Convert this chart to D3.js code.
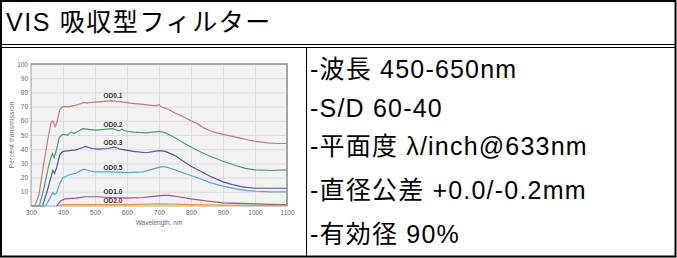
<!DOCTYPE html>
<html>
<head>
<meta charset="utf-8">
<script src="https://cdn.jsdelivr.net/npm/d3@7"></script>
<style>
  html, body { margin: 0; padding: 0; background: #fff; }
  svg { display: block; }
  .txt { font-family: "Liberation Sans", Arial, "Noto Sans CJK JP", sans-serif; fill: #000; }
  .small { font-family: "Liberation Sans", Arial, sans-serif; fill: #666; }
</style>
</head>
<body>
<svg id="page" width="677" height="258"></svg>
<script>
// table text
const headerText = "VIS 吸収型フィルター";
const specLines = ["-波長 450-650nm", "-S/D 60-40", "-平面度 λ/inch@633nm", "-直径公差 +0.0/-0.2mm", "-有効径 90%"];

// chart data: [wavelength nm, percent transmission]
const seriesNames = ["OD0.1", "OD0.2", "OD0.3", "OD0.5", "OD1.0", "OD2.0"];
const seriesColors = ["#c47b7b", "#4f9a78", "#4f5896", "#58a8c6", "#9c4f8e", "#d2a236"];
const od01 = [[300,0],[312,0],[325,8],[340,30],[355,50],[363,59],[368,60],[372,58],[376,56],[381,59],[390,68],[400,70],[420,70],[440,71],[455,72],[465,73],[475,72.5],[490,73],[520,73.5],[550,74],[580,73.5],[610,72.5],[650,71.5],[690,70.5],[700,71.5],[705,70],[730,68],[750,65.5],[770,63.5],[800,60],[820,58],[840,55],[860,53],[880,51.5],[900,50.5],[930,49],[950,48],[980,46.5],[1000,45.5],[1040,44.5],[1070,44],[1100,44]];
const od02 = [[300,0],[326,0],[340,12],[355,28],[362,34],[367,37],[372,34],[378,38],[388,48],[398,50.5],[415,50],[425,52],[435,51],[450,53],[462,54.5],[480,54],[500,53.5],[530,54],[555,54.5],[575,53],[585,54],[590,53],[620,52],[660,51.5],[700,52.5],[720,51.5],[750,48],[780,44],[800,41.5],[830,38],[860,35],[900,31.5],[940,28.5],[970,26.5],[1000,25.5],[1050,25],[1100,25.5]];
const od03 = [[300,0],[336,0],[350,10],[362,20],[368,25],[374,23],[380,27],[390,36],[400,38.5],[420,39],[440,39.5],[460,41],[470,42],[490,40.5],[510,40],[540,40.5],[560,41.5],[580,40],[620,38.5],[660,37.5],[700,39],[720,38.5],[750,35.5],[780,31],[800,28],[830,24.5],[860,21],[900,17],[930,15],[960,13.5],[1000,12.5],[1050,12.5],[1100,12.5]];
const od05 = [[300,0],[345,0],[358,5],[368,9.5],[374,8],[380,9],[390,16],[400,20],[420,22],[440,23],[455,25],[465,26],[480,25],[500,24],[550,24],[600,23.5],[650,24],[680,26],[705,27.5],[720,27.5],[750,25.5],[780,23],[800,21.5],[830,19],[860,16.5],[900,14],[940,12],[970,11],[1000,10.5],[1050,10],[1100,10]];
const od10 = [[380,0],[392,3.5],[405,5],[440,5.5],[470,6.5],[500,6.5],[550,6],[600,5.5],[650,6],[690,7],[710,7.5],[730,7.5],[760,6.5],[800,5],[850,3.5],[900,2.2],[950,1.8],[1000,1.5],[1050,1.2],[1100,1]];
const od20 = [[385,0],[400,1],[500,1],[600,1],[700,1.5],[750,1.3],[800,1],[900,0.7],[1000,0.5],[1100,0.5]];
const seriesData = [od01, od02, od03, od05, od10, od20];
const labelY = [77.5, 57, 44.5, 27, 10, 3.5];
const labelX = 556;

const xTicks = [300, 400, 500, 600, 700, 800, 900, 1000, 1100];
const yTicks = [10, 20, 30, 40, 50, 60, 70, 80, 90, 100];

const svg = d3.select("#page");

// ---- table frame ----
const frame = svg.append("g").attr("stroke", "#000").attr("fill", "none");
frame.append("rect").attr("x", 1).attr("y", 1).attr("width", 674.5).attr("height", 255.5).attr("stroke-width", 2);
frame.append("line").attr("x1", 1).attr("x2", 676).attr("y1", 44.5).attr("y2", 44.5);
frame.append("line").attr("x1", 1).attr("x2", 676).attr("y1", 47.5).attr("y2", 47.5);
frame.append("line").attr("x1", 306.5).attr("x2", 306.5).attr("y1", 47).attr("y2", 257);

// header
svg.append("text")
    .attr("class", "txt")
    .attr("x", 6)
    .attr("y", 31)
    .attr("font-size", "25px")
    .attr("letter-spacing", "1.6px")
    .text(headerText);

// spec lines
const specBase = [78, 116.5, 155, 199, 243];
svg.append("g").selectAll("text")
    .data(specLines)
    .join("text")
    .attr("class", "txt")
    .attr("x", 310)
    .attr("y", (d, i) => specBase[i])
    .attr("font-size", "25px")
    .attr("letter-spacing", "1.2px")
    .text(d => d);

// ---- chart ----
const margin = { left: 31, top: 64, right: 287, bottom: 206 };
const x = d3.scaleLinear().domain([300, 1100]).range([margin.left, margin.right]);
const y = d3.scaleLinear().domain([0, 100]).range([margin.bottom, margin.top]);

const chart = svg.append("g");

chart.append("rect")
    .attr("x", x(300)).attr("y", y(100))
    .attr("width", x(1100) - x(300)).attr("height", y(0) - y(100))
    .attr("fill", "#f2f2f2");

// grid
const gridX = chart.append("g")
    .attr("transform", `translate(0, ${y(0)})`)
    .call(d3.axisBottom(x).tickValues(xTicks).tickSize(-(y(0) - y(100))).tickFormat(""));
gridX.select(".domain").remove();
gridX.selectAll("line").attr("stroke", "#dcdcdc");

const gridY = chart.append("g")
    .attr("transform", `translate(${x(300)}, 0)`)
    .call(d3.axisLeft(y).tickValues(yTicks).tickSize(-(x(1100) - x(300))).tickFormat(""));
gridY.select(".domain").remove();
gridY.selectAll("line").attr("stroke", "#dcdcdc");

// curves
const line = d3.line().x(d => x(d[0])).y(d => y(d[1]));
chart.append("g").selectAll("path")
    .data(seriesData)
    .join("path")
    .attr("d", line)
    .attr("fill", "none")
    .attr("stroke", (d, i) => seriesColors[i])
    .attr("stroke-width", 1.2);

// frame of plot
chart.append("rect")
    .attr("x", x(300)).attr("y", y(100))
    .attr("width", x(1100) - x(300)).attr("height", y(0) - y(100))
    .attr("fill", "none").attr("stroke", "#a8a8a8");
chart.append("path")
    .attr("d", `M${x(300)},${y(100)}H${x(1100)}V${y(0)}`)
    .attr("fill", "none").attr("stroke", "#999").attr("stroke-width", 1.6);

// curve labels
chart.append("g").selectAll("text")
    .data(seriesNames)
    .join("text")
    .attr("x", x(labelX))
    .attr("y", (d, i) => y(labelY[i]) + 2.3)
    .attr("text-anchor", "middle")
    .attr("font-family", "Liberation Sans, Arial, sans-serif")
    .attr("font-size", "6.5px")
    .attr("font-weight", "bold")
    .attr("fill", "#333")
    .text(d => d);

// tick labels
const yAxis = chart.append("g")
    .attr("transform", `translate(${x(300)}, 0)`)
    .call(d3.axisLeft(y).tickValues(yTicks).tickSize(0).tickPadding(3));
yAxis.select(".domain").remove();
yAxis.selectAll("text").attr("class", "small").attr("font-size", "6.5px").attr("fill", "#666");

const xAxis = chart.append("g")
    .attr("transform", `translate(0, ${y(0)})`)
    .call(d3.axisBottom(x).tickValues(xTicks).tickFormat(d3.format("d")).tickSize(0).tickPadding(4));
xAxis.select(".domain").remove();
xAxis.selectAll("text").attr("class", "small").attr("font-size", "6.5px").attr("fill", "#666");

chart.append("text")
    .attr("class", "small")
    .attr("x", (x(300) + x(1100)) / 2)
    .attr("y", 224.5)
    .attr("text-anchor", "middle")
    .attr("font-size", "6.5px")
    .text("Wavelength, nm");

chart.append("text")
    .attr("class", "small")
    .attr("transform", `translate(14, ${(y(0) + y(100)) / 2}) rotate(-90)`)
    .attr("text-anchor", "middle")
    .attr("font-size", "6.5px")
    .attr("letter-spacing", "0.3px")
    .text("Percent transmission");
</script>
</body>
</html>
